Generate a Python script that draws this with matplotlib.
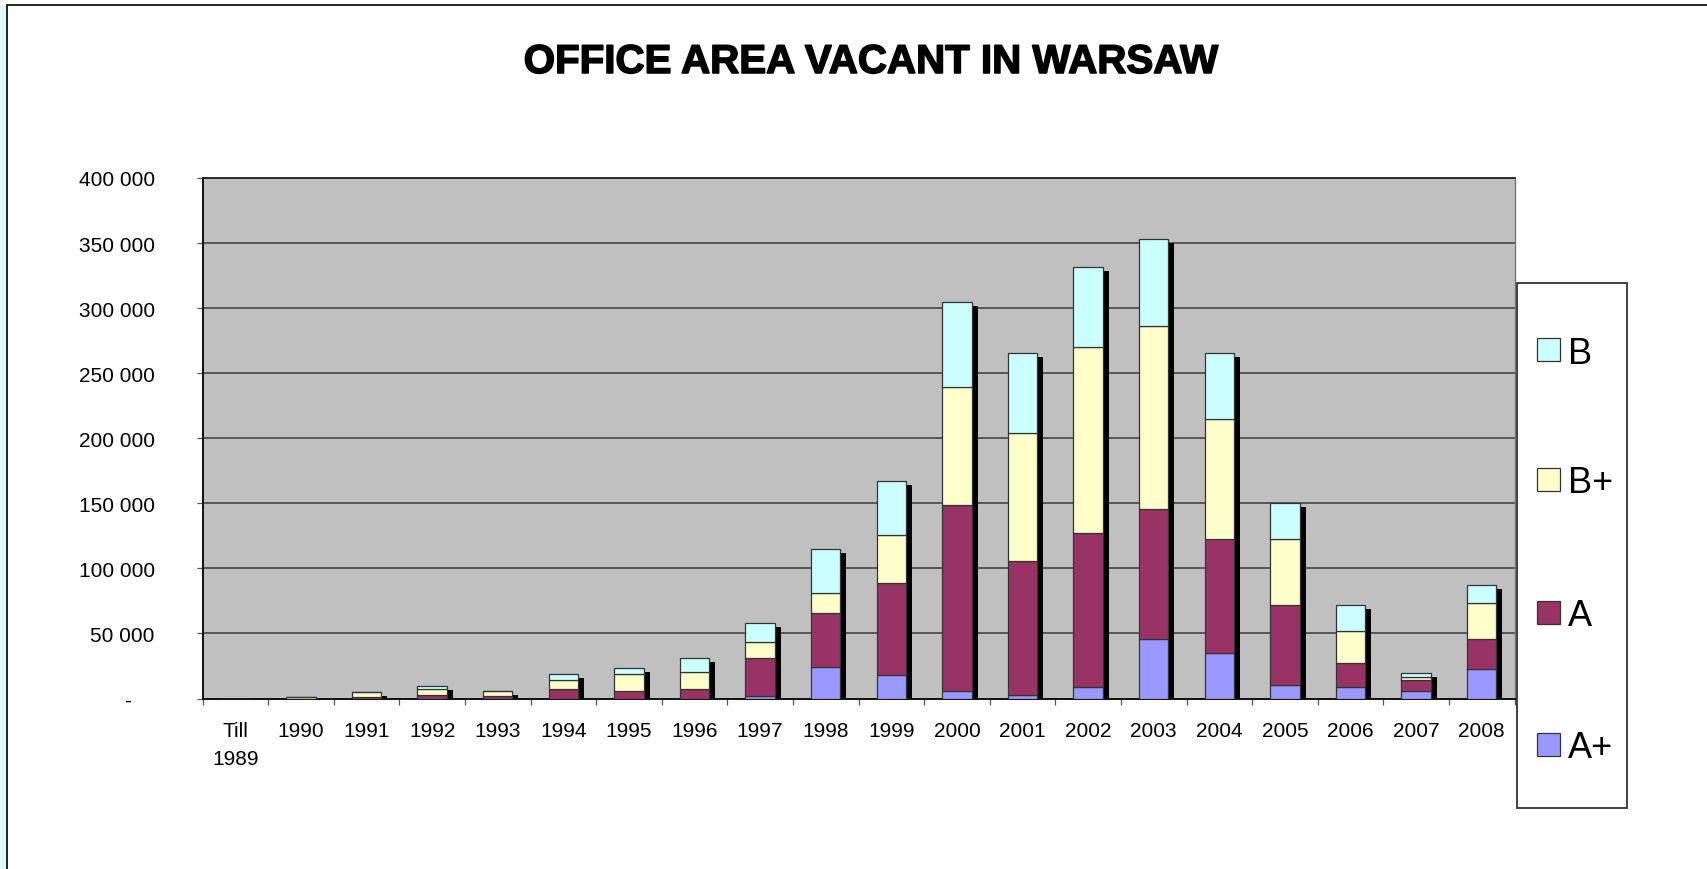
import matplotlib.pyplot as plt
import matplotlib.patheffects as pe
from matplotlib.patches import Rectangle
from matplotlib.lines import Line2D
import numpy as np

# --- Data (m2 vacant) ---
categories = ["Till\n1989", "1990", "1991", "1992", "1993", "1994", "1995", "1996", "1997",
              "1998", "1999", "2000", "2001", "2002", "2003", "2004", "2005", "2006", "2007", "2008"]
a_plus = [0, 0, 0, 0, 0, 0, 0, 0, 1600, 24100, 18100, 5800, 2700, 9000, 45500, 35100,
          10400, 9000, 5800, 22800]
a_cls = [0, 0, 1500, 2900, 2100, 7600, 6000, 7600, 29600, 41700, 70400, 142800, 103100,
         117900, 100000, 87400, 61400, 18100, 8200, 22700]
b_plus = [0, 1500, 3200, 4400, 3900, 6500, 12600, 12600, 12300, 15300, 37000, 90700, 97900,
          143100, 140900, 92100, 50700, 25000, 2700, 28000]
b_cls = [0, 0, 0, 2100, 0, 4700, 5000, 11200, 14400, 34000, 41700, 65700, 61600, 61400,
         66400, 50700, 27700, 19700, 3000, 13700]

series = [("A+", a_plus, "#9999FF"), ("A", a_cls, "#993366"),
          ("B+", b_plus, "#FFFFCC"), ("B", b_cls, "#CCFFFF")]

W, H = 1707, 870
fig = plt.figure(figsize=(W / 100, H / 100), dpi=100)
font = "Liberation Sans"

# --- outer frame pieces (chart is cropped) ---
fig.add_artist(Rectangle((0, 0), 6.5 / W, 1 - 6 / H, transform=fig.transFigure,
                         facecolor="#E2F7FB", edgecolor="none"))
fig.add_artist(Line2D([7 / W, 1], [1 - 5.5 / H, 1 - 5.5 / H], transform=fig.transFigure,
                      color="#222222", lw=1.4))
fig.add_artist(Line2D([7 / W, 7 / W], [0, 1 - 5.5 / H], transform=fig.transFigure,
                      color="#222222", lw=1.4))

ax = fig.add_axes([202.5 / W, 1 - 699.5 / H, 1312 / W, 520.5 / H])
ax.set_facecolor("#C0C0C0")

x = np.arange(len(categories)) + 0.5
width = 0.45
totals = np.sum([s[1] for s in series], axis=0)

# shadows behind the stacks
dx = 6 / 65.6
dy = 4 * 400000 / 520.5
ax.bar(x + dx, np.maximum(totals - dy, 0), width, color="black", zorder=2)

bottom = np.zeros(len(categories))
for name, vals, col in series:
    vals = np.array(vals, dtype=float)
    ax.bar(x, vals, width, bottom=bottom, color=col, edgecolor="#333333",
           linewidth=0.9, zorder=3, label=name)
    bottom += vals

ax.set_xlim(0, len(categories))
ax.set_ylim(0, 400000)

yt = np.arange(0, 400001, 50000)
ax.set_yticks(yt)
ax.set_yticklabels(["-    "] + [f"{v:,}".replace(",", " ") for v in yt[1:]])
ax.yaxis.grid(True, color="#3a3a3a", lw=1.1)
ax.set_axisbelow(True)
ax.tick_params(axis="y", length=4.3, width=0.9, color="#555555", pad=30,
               labelsize=15)

ax.set_xticks(x)
ax.set_xticklabels(categories, linespacing=1.65)
ax.set_xticks(np.arange(0, len(categories) + 1), minor=True)
ax.tick_params(axis="x", which="major", length=0, pad=16, labelsize=15)
ax.tick_params(axis="x", which="minor", length=4.5, width=0.9, color="#555555")
for lab in ax.get_xticklabels() + ax.get_yticklabels():
    lab.set_fontfamily(font)

for side in ["left", "bottom"]:
    ax.spines[side].set_color("#111111")
    ax.spines[side].set_linewidth(1.4)
ax.spines["top"].set_color("#222222")
ax.spines["top"].set_linewidth(1.3)
ax.spines["right"].set_color("#777777")
ax.spines["right"].set_linewidth(1.0)

# --- title ---
fig.text(871 / W, 1 - 63 / H, "OFFICE AREA VACANT IN WARSAW", ha="center", va="center",
         fontsize=29, fontweight="bold", family=font,
         path_effects=[pe.withStroke(linewidth=1.1, foreground="black")])

# --- legend box ---
fig.add_artist(Rectangle((1517 / W, 1 - 809 / H), 110 / W, 525 / H,
                         transform=fig.transFigure, facecolor="white",
                         edgecolor="#333333", lw=1.3))
legend_y = [350.6, 480, 613, 745]
for (name, vals, col), ly in zip(series[::-1], legend_y):
    fig.add_artist(Rectangle((1536.5 / W, 1 - (ly + 11.5) / H), 23 / W, 23 / H,
                             transform=fig.transFigure, facecolor=col,
                             edgecolor="#333333", lw=0.9))
    fig.text(1568 / W, 1 - ly / H, name, ha="left", va="center_baseline",
             fontsize=26, family=font)

fig.savefig("out.png", dpi=100)
